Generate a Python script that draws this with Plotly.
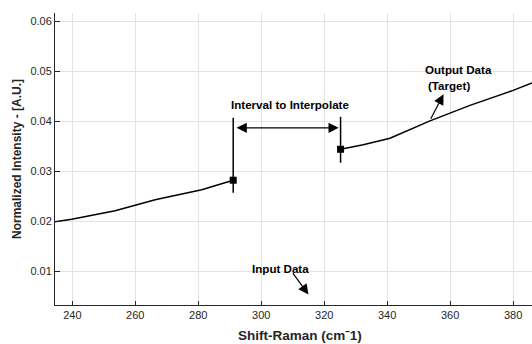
import plotly.graph_objects as go

# Data
left_x = [234.5, 239.8, 253.6, 259.9, 266.3, 281.1, 291.1]
left_y = [0.0199, 0.0204, 0.0221, 0.0232, 0.0243, 0.0263, 0.0282]
right_x = [325.2, 332.4, 340.9, 353.6, 366.3, 380.0, 386.0]
right_y = [0.0344, 0.0353, 0.0366, 0.0401, 0.0432, 0.0462, 0.0477]

x_ticks = [240, 260, 280, 300, 320, 340, 360, 380]
y_ticks = [0.01, 0.02, 0.03, 0.04, 0.05, 0.06]

FONT = "Liberation Sans, Arial, sans-serif"
DARK = "#262626"
AFS = 11.6

fig = go.Figure()
fig.add_trace(go.Scatter(x=left_x, y=left_y, mode="lines",
                         line=dict(color="black", width=1.5), showlegend=False))
fig.add_trace(go.Scatter(x=right_x, y=right_y, mode="lines",
                         line=dict(color="black", width=1.5), showlegend=False))
# square markers at the interval boundaries
fig.add_trace(go.Scatter(x=[left_x[-1], right_x[0]], y=[left_y[-1], right_y[0]],
                         mode="markers",
                         marker=dict(symbol="square", size=7, color="black"),
                         showlegend=False))
# vertical boundary lines
fig.add_trace(go.Scatter(x=[left_x[-1], left_x[-1]], y=[0.0257, 0.0407], mode="lines",
                         line=dict(color="black", width=1.5), showlegend=False))
fig.add_trace(go.Scatter(x=[right_x[0], right_x[0]], y=[0.0317, 0.0409], mode="lines",
                         line=dict(color="black", width=1.5), showlegend=False))

anns = []
# double-headed arrow
anns.append(dict(x=right_x[0] - 0.6, y=0.0387, ax=left_x[-1] + 0.6, ay=0.0387,
                 xref="x", yref="y", axref="x", ayref="y", text="",
                 showarrow=True, arrowhead=2, startarrowhead=2, arrowside="end+start",
                 arrowsize=1.7, startarrowsize=1.7, arrowwidth=1.2, arrowcolor="black"))
anns.append(dict(x=309.1, y=0.0434, xref="x", yref="y", text="<b>Interval to Interpolate</b>",
                 showarrow=False, font=dict(family=FONT, size=AFS, color="black")))
# output data
anns.append(dict(x=357.9, y=0.0454, ax=353.6, ay=0.0402,
                 xref="x", yref="y", axref="x", ayref="y", text="",
                 showarrow=True, arrowhead=2, arrowsize=1.7, arrowwidth=1.2, arrowcolor="black"))
anns.append(dict(x=351.3, y=0.0504, xref="x", yref="y", xanchor="left",
                 text="<b>Output Data</b>", showarrow=False,
                 font=dict(family=FONT, size=AFS, color="black")))
anns.append(dict(x=352.3, y=0.0472, xref="x", yref="y", xanchor="left",
                 text="<b>(Target)</b>", showarrow=False,
                 font=dict(family=FONT, size=AFS, color="black")))
# input data
anns.append(dict(x=315.0, y=0.0053, ax=309.7, ay=0.0099,
                 xref="x", yref="y", axref="x", ayref="y", text="",
                 showarrow=True, arrowhead=2, arrowsize=1.7, arrowwidth=1.2, arrowcolor="black"))
anns.append(dict(x=306.0, y=0.0105, xref="x", yref="y", text="<b>Input Data</b>",
                 showarrow=False, font=dict(family=FONT, size=AFS, color="black")))
# x axis title (positioned like the reference, slightly right of plot centre)
anns.append(dict(x=312.4, y=0, xref="x", yref="paper", yanchor="middle", yshift=-30,
                 text="<b>Shift-Raman (cmˉ1)</b>", showarrow=False,
                 font=dict(family=FONT, size=13.5, color=DARK)))

fig.update_layout(
    width=532, height=344,
    margin=dict(l=55, r=0, t=13, b=39),
    paper_bgcolor="white", plot_bgcolor="white",
    font=dict(family=FONT, size=11, color=DARK),
    annotations=anns,
    xaxis=dict(range=[234.5, 386], tickvals=x_ticks, ticks="inside", ticklen=4,
               tickcolor=DARK, showline=True, linecolor=DARK, linewidth=1,
               showgrid=True, gridcolor="#e3e3e3", zeroline=False),
    yaxis=dict(range=[0.0032, 0.0617], tickvals=y_ticks, tickformat=".2f",
               ticks="inside", ticklen=5, tickcolor=DARK,
               showline=True, linecolor=DARK, linewidth=1,
               showgrid=True, gridcolor="#e3e3e3", zeroline=False,
               title=dict(text="<b>Normalized Intensity - [A.U.]</b>", standoff=6,
                          font=dict(family=FONT, size=12, color=DARK))),
)

fig.write_html("out.html")
